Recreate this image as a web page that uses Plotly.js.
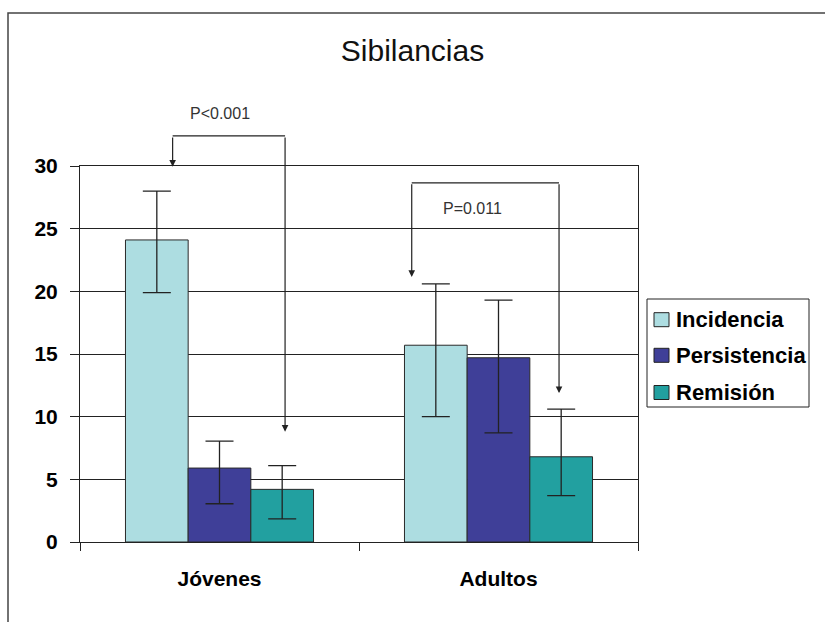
<!DOCTYPE html>
<html>
<head>
<meta charset="utf-8">
<script src="https://cdn.plot.ly/plotly-3.0.1.min.js"></script>
<style>html,body{margin:0;padding:0;background:#fff;overflow:hidden;}</style>
</head>
<body>
<div id="chart" style="width:825px;height:622px;"></div>
<script>
// ---- data ----
const categories = ['Jóvenes', 'Adultos'];
const seriesNames = ['Incidencia', 'Persistencia', 'Remisión'];
const incidencia = [24.1, 15.7];
const incidenciaHi = [28.0, 20.6];
const incidenciaLo = [19.9, 10.0];
const persistencia = [5.9, 14.7];
const persistenciaHi = [8.05, 19.3];
const persistenciaLo = [3.05, 8.7];
const remision = [4.2, 6.8];
const remisionHi = [6.1, 10.6];
const remisionLo = [1.85, 3.7];
const yTicks = [0, 5, 10, 15, 20, 25, 30];
const pLabels = ['P<0.001', 'P=0.011'];

const colors = ['#ADDDE1', '#3F3F98', '#22A0A0'];
const values = [incidencia, persistencia, remision];
const his = [incidenciaHi, persistenciaHi, remisionHi];
const los = [incidenciaLo, persistenciaLo, remisionLo];
const YMAX = 30;
const FONT = 'Liberation Sans, Arial, sans-serif';

// plot-area geometry helpers (pixel -> paper) for decorations
const M = {l: 80, r: 187, t: 166, b: 80};
const W = 825, H = 622;
const PW = W - M.l - M.r, PH = H - M.t - M.b;
const px = p => (p - M.l) / PW;
const py = p => (H - M.b - p) / PH;

const traces = values.map((v, i) => ({
  type: 'bar',
  name: seriesNames[i],
  x: categories,
  y: v,
  marker: {color: colors[i], line: {color: '#2a2a2a', width: 1}},
  error_y: {
    type: 'data', symmetric: false,
    array: v.map((d, k) => his[i][k] - d),
    arrayminus: v.map((d, k) => d - los[i][k]),
    color: '#222', thickness: 1.3, width: 14
  },
  hoverinfo: 'skip'
}));

// significance brackets (annotation geometry, data units)
const brackets = [
  {x1: -0.168, x2: 0.235, top: 32.4, tip1: 29.95, tip2: 8.8, lx: 0.0, ly: 34.15, label: pLabels[0]},
  {x1: 0.689, x2: 1.217, top: 28.66, tip1: 21.15, tip2: 11.88, lx: 0.905, ly: 26.64, label: pLabels[1]}
];

const shapes = [
  // outer frame
  {type: 'rect', xref: 'paper', yref: 'paper', x0: px(8), x1: 2, y0: -1, y1: py(13),
   line: {color: '#444', width: 1.5}, fillcolor: 'rgba(0,0,0,0)', layer: 'below'}
];
const annotations = [];
brackets.forEach(b => {
  shapes.push({type: 'line', xref: 'x', yref: 'paper', x0: b.x1, x1: b.x2,
    y0: b.top / YMAX, y1: b.top / YMAX, line: {color: '#222', width: 1.2}});
  [[b.x1, b.tip1], [b.x2, b.tip2]].forEach(([x, tip]) => {
    annotations.push({xref: 'x', yref: 'y', axref: 'x', ayref: 'y',
      x: x, y: tip, ax: x, ay: b.top, text: '', showarrow: true,
      arrowhead: 2, arrowsize: 1.1, arrowwidth: 1.2, arrowcolor: '#222', standoff: 0});
  });
  annotations.push({xref: 'x', yref: 'paper', x: b.lx, y: b.ly / YMAX, text: b.label,
    showarrow: false, xanchor: 'center', yanchor: 'middle',
    font: {family: FONT, size: 16, color: '#333'}});
});

// legend (boxed, to the right of the plot)
const LEG = {x0: 647, x1: 809, y0: 299, y1: 407, sq0: 654, sq1: 669, sqH: 14, tx: 674, rows: [319.7, 355.3, 392.5]};
shapes.push({type: 'rect', xref: 'paper', yref: 'paper', x0: px(LEG.x0), x1: px(LEG.x1),
  y0: py(LEG.y1), y1: py(LEG.y0), line: {color: '#222', width: 1}, fillcolor: '#fff'});
seriesNames.forEach((name, i) => {
  const cy = LEG.rows[i];
  shapes.push({type: 'rect', xref: 'paper', yref: 'paper', x0: px(LEG.sq0), x1: px(LEG.sq1),
    y0: py(cy + LEG.sqH / 2), y1: py(cy - LEG.sqH / 2),
    line: {color: '#222', width: 1}, fillcolor: colors[i]});
  annotations.push({xref: 'paper', yref: 'paper', x: px(LEG.tx), y: py(cy), text: name,
    showarrow: false, xanchor: 'left', yanchor: 'middle',
    font: {family: FONT, size: 22, color: '#000', weight: 'bold'}});
});

const layout = {
  width: W, height: H,
  margin: {l: M.l, r: M.r, t: M.t, b: M.b, pad: 0},
  paper_bgcolor: '#fff', plot_bgcolor: '#fff',
  title: {text: 'Sibilancias', x: 0.5, xref: 'container', y: 1 - 50 / H, yref: 'container',
    xanchor: 'center', yanchor: 'middle',
    font: {family: FONT, size: 30, color: '#111'}},
  barmode: 'group', bargap: 0.326, bargroupgap: 0,
  showlegend: false,
  xaxis: {
    type: 'category', showline: true, linecolor: '#222', linewidth: 1, mirror: true,
    ticks: 'outside', tickson: 'boundaries', ticklen: 8, tickcolor: '#222',
    showgrid: false, ticklabelstandoff: 18, automargin: false,
    tickfont: {family: FONT, size: 21, color: '#000', weight: 'bold'}
  },
  yaxis: {
    range: [0, YMAX], tickvals: yTicks, showline: true, linecolor: '#222', linewidth: 1, mirror: true,
    ticks: 'outside', ticklen: 9, tickcolor: '#222', ticklabelstandoff: 8, automargin: false,
    showgrid: true, gridcolor: '#222', gridwidth: 1, zeroline: false,
    tickfont: {family: FONT, size: 21, color: '#000', weight: 'bold'}
  },
  shapes: shapes,
  annotations: annotations
};

Plotly.newPlot('chart', traces, layout, {staticPlot: true, displayModeBar: false});
</script>
</body>
</html>
